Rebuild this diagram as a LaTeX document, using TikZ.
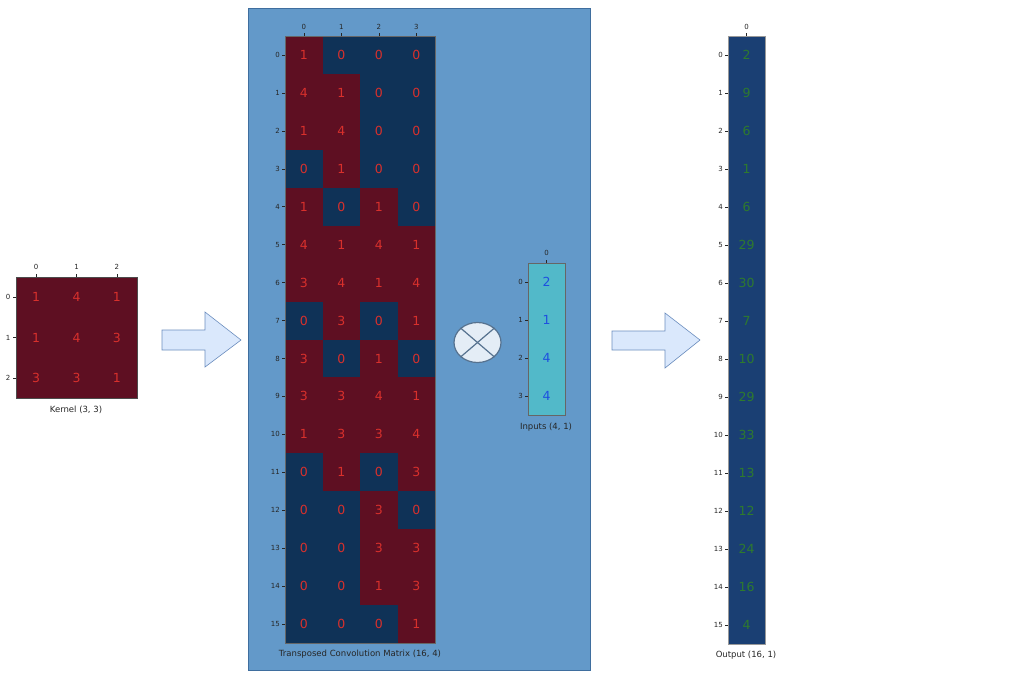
\documentclass[tikz,border=0pt]{standalone}
\usepackage{fontspec}
\setmainfont{DejaVu Sans}
\usetikzlibrary{shapes.geometric}
\definecolor{panel}{HTML}{6399C9}
\definecolor{panelb}{HTML}{3F6E9E}
\definecolor{nzc}{HTML}{5E0F22}
\definecolor{zc}{HTML}{0F3257}
\definecolor{redtxt}{HTML}{D8302C}
\definecolor{inpc}{HTML}{52B9C9}
\definecolor{bluetxt}{HTML}{1E50E0}
\definecolor{outc}{HTML}{1A3F73}
\definecolor{greentxt}{HTML}{2E7A2E}
\definecolor{arrowf}{HTML}{DAE8FC}
\definecolor{arrowd}{HTML}{6C8EBF}
\definecolor{circf}{HTML}{E4EDF6}
\definecolor{circd}{HTML}{56728F}
\definecolor{ticktxt}{HTML}{262626}
\begin{document}
\begin{tikzpicture}[x=1pt,y=-1pt,
  cell/.style={inner sep=0pt, outer sep=0pt, text=redtxt, font=\fontsize{12.5}{12.5}\selectfont},
  ticklab/.style={inner sep=0pt, text=ticktxt, font=\fontsize{7}{7}\selectfont},
  caption/.style={inner sep=0pt, text=black!85, font=\fontsize{8.5}{8.5}\selectfont},
  tick/.style={draw=ticktxt, line width=0.5pt},
  bigarrow/.style={draw=arrowd, fill=arrowf, line width=0.6pt},
]
\useasboundingbox (0,0) rectangle (1027,681);
\fill[white] (0,0) rectangle (1027,681);

% ---------- Kernel ----------
\def\kx{16}\def\ky{277}\def\ks{40.33}
\foreach \r [count=\i from 0] in {{1,4,1},{1,4,3},{3,3,1}}{
  \foreach \v [count=\j from 0] in \r {
    \fill[nzc] ({\kx+\j*\ks},{\ky+\i*\ks}) rectangle ++(\ks+0.3,\ks+0.3);
    \node[cell] (k-\i-\j) at ({\kx+(\j+0.5)*\ks},{\ky+(\i+0.5)*\ks}) {\v};
  }
}
\draw[black!70, line width=0.5pt] (\kx,\ky) rectangle ({\kx+3*\ks},{\ky+3*\ks});
\foreach \j in {0,1,2}{
  \node[ticklab] (kc-\j) at ({\kx+(\j+0.5)*\ks},267) {\j};
  \draw[tick] ({\kx+(\j+0.5)*\ks},\ky) -- ++(0,-3);
  \node[ticklab] (kr-\j) at (8,{\ky+(\j+0.5)*\ks}) {\j};
  \draw[tick] (\kx,{\ky+(\j+0.5)*\ks}) -- ++(-3,0);
}
\node[caption] (kcap) at (76,410) {Kernel (3, 3)};

% ---------- Arrow 1 ----------
\draw[bigarrow] (162,330) -- (205,330) -- (205,312) -- (241,340) -- (205,367) -- (205,350) -- (162,350) -- cycle;

% ---------- Panel ----------
\draw[panelb, fill=panel, line width=0.8pt] (248,8) rectangle (590,670);

% ---------- Transposed matrix ----------
\def\mx{285}\def\my{36}\def\mw{37.5}\def\mh{37.94}
\foreach \r [count=\i from 0] in {{1,0,0,0},{4,1,0,0},{1,4,0,0},{0,1,0,0},{1,0,1,0},{4,1,4,1},{3,4,1,4},{0,3,0,1},{3,0,1,0},{3,3,4,1},{1,3,3,4},{0,1,0,3},{0,0,3,0},{0,0,3,3},{0,0,1,3},{0,0,0,1}}{
  \foreach \v [count=\j from 0] in \r {
    \ifnum\v=0 \def\cc{zc}\else\def\cc{nzc}\fi
    \fill[\cc] ({\mx+\j*\mw},{\my+\i*\mh}) rectangle ++(\mw+0.3,\mh+0.3);
    \node[cell] (m-\i-\j) at ({\mx+(\j+0.5)*\mw},{\my+(\i+0.5)*\mh}) {\v};
  }
}
\draw[black!60, line width=0.4pt] (\mx,\my) rectangle ({\mx+4*\mw},{\my+16*\mh});
\foreach \j in {0,1,2,3}{
  \node[ticklab] (mc-\j) at ({\mx+(\j+0.5)*\mw},27) {\j};
  \draw[tick] ({\mx+(\j+0.5)*\mw},\my) -- ++(0,-3);
}
\foreach \i in {0,...,15}{
  \node[ticklab, anchor=east] (mr-\i) at (280,{\my+(\i+0.5)*\mh}) {\i};
  \draw[tick] (\mx,{\my+(\i+0.5)*\mh}) -- ++(-3,0);
}
\node[caption] (mcap) at (360,654) {Transposed Convolution Matrix (16, 4)};

% ---------- Multiply circle ----------
\node[draw=circd, fill=circf, ellipse, line width=1.2pt, minimum width=47pt, minimum height=40pt, inner sep=0pt] (mul) at (477.5,342.5) {};
\draw[circd, line width=1.2pt] (mul.north west) -- (mul.south east);
\draw[circd, line width=1.2pt] (mul.north east) -- (mul.south west);

% ---------- Inputs ----------
\def\ix{528}\def\iy{263}\def\ih{38}\def\iw{37}
\fill[inpc] (\ix,\iy) rectangle ({\ix+\iw},{\iy+4*\ih});
\draw[black!60, line width=0.5pt] (\ix,\iy) rectangle ({\ix+\iw},{\iy+4*\ih});
\foreach \v [count=\i from 0] in {2,1,4,4}{
  \node[cell, text=bluetxt] (in-\i) at ({\ix+\iw/2},{\iy+(\i+0.5)*\ih}) {\v};
  \node[ticklab, anchor=east] (ir-\i) at (523,{\iy+(\i+0.5)*\ih}) {\i};
  \draw[tick] (\ix,{\iy+(\i+0.5)*\ih}) -- ++(-3,0);
}
\node[ticklab] (ic-0) at ({\ix+\iw/2},253) {0};
\draw[tick] ({\ix+\iw/2},\iy) -- ++(0,-3);
\node[caption] (icap) at (546,427) {Inputs (4, 1)};

% ---------- Arrow 2 ----------
\draw[bigarrow] (612,331) -- (665,331) -- (665,313) -- (700,340) -- (665,368) -- (665,350) -- (612,350) -- cycle;

% ---------- Output ----------
\def\ox{728}\def\oy{36}\def\oh{38}\def\ow{37}
\fill[outc] (\ox,\oy) rectangle ({\ox+\ow},{\oy+16*\oh});
\draw[black!40, line width=0.5pt] (\ox,\oy) rectangle ({\ox+\ow},{\oy+16*\oh});
\foreach \v [count=\i from 0] in {2,9,6,1,6,29,30,7,10,29,33,13,12,24,16,4}{
  \node[cell, text=greentxt] (out-\i) at ({\ox+\ow/2},{\oy+(\i+0.5)*\oh}) {\v};
  \node[ticklab, anchor=east] (or-\i) at (723,{\oy+(\i+0.5)*\oh}) {\i};
  \draw[tick] (\ox,{\oy+(\i+0.5)*\oh}) -- ++(-3,0);
}
\node[ticklab] (oc-0) at ({\ox+\ow/2},27) {0};
\draw[tick] ({\ox+\ow/2},\oy) -- ++(0,-3);
\node[caption] (ocap) at (746,655) {Output (16, 1)};
\end{tikzpicture}
\end{document}
